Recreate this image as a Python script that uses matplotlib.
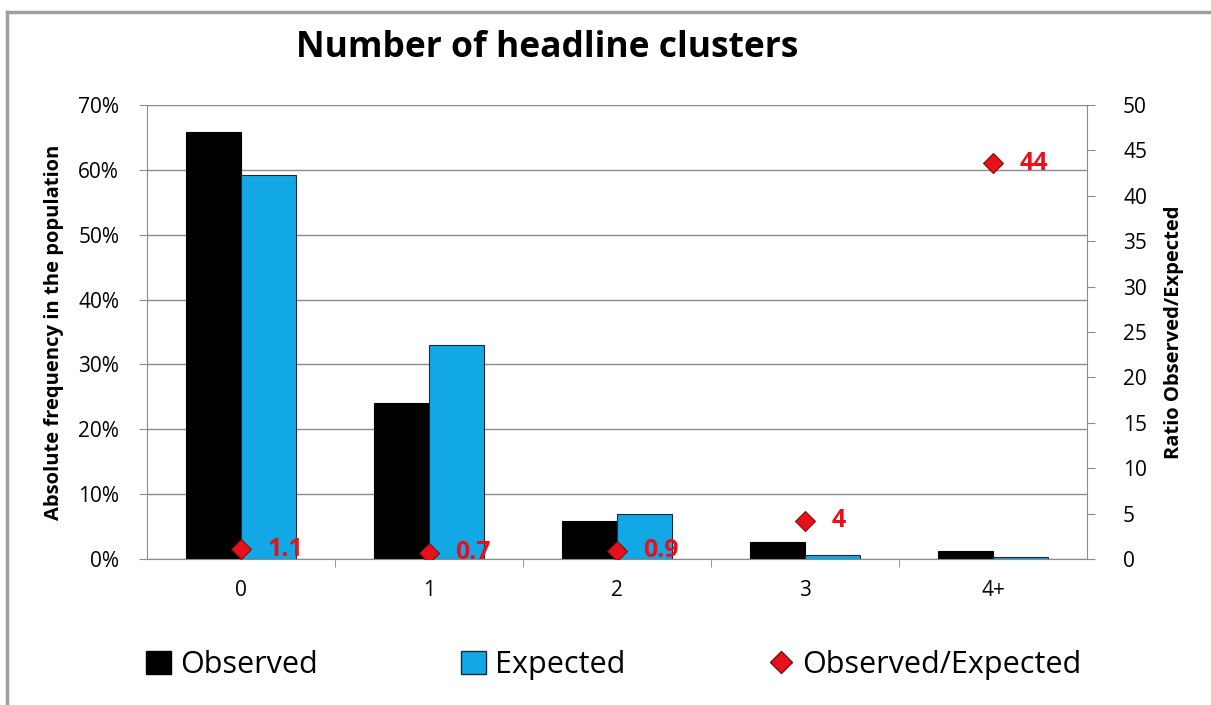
import numpy as np
import matplotlib.pyplot as plt
from matplotlib.ticker import FuncFormatter
from matplotlib.lines import Line2D
from matplotlib.patches import Patch

categories = ['0', '1', '2', '3', '4+']
observed = [65.8, 24.0, 5.9, 2.6, 1.2]      # % of population
expected = [59.2, 33.0, 6.9, 0.6, 0.3]
ratio = [1.1, 0.7, 0.9, 4.2, 43.6]
ratio_labels = ['1.1', '0.7', '0.9', '4', '44']

plt.rcParams['font.family'] = ['Open Sans', 'DejaVu Sans']

fig = plt.figure(figsize=(12.11, 7.05), dpi=100)
ax = fig.add_axes([0.1214, 0.2071, 0.7762, 0.6439])

x = np.arange(len(categories))
w = 0.29
ax.bar(x - w / 2, observed, w, color='black', edgecolor='black', linewidth=0.8, zorder=2)
ax.bar(x + w / 2, expected, w, color='#12A8E6', edgecolor='#1a2a3a', linewidth=0.8, zorder=2)

ax.set_xlim(-0.5, len(categories) - 0.5)
ax.set_ylim(0, 70)
ax.set_yticks(np.arange(0, 71, 10))
ax.yaxis.set_major_formatter(FuncFormatter(lambda v, p: '%d%%' % v))
ax.grid(axis='y', color='#8c8c8c', linewidth=1.0, zorder=0)
ax.set_xticks(x)
ax.set_xticklabels(categories)
ax.set_xticks(np.arange(0.5, len(categories) - 1, 1), minor=True)
ax.tick_params(axis='x', which='major', length=0, labelsize=15, pad=15)
ax.tick_params(axis='x', which='minor', length=6, color='#8c8c8c', direction='out')
ax.tick_params(axis='y', labelsize=15, length=6, color='#8c8c8c', pad=14)
for s in ['top', 'right']:
    ax.spines[s].set_visible(False)
for s in ['left', 'bottom']:
    ax.spines[s].set_color('#8c8c8c')
ax.set_ylabel('Absolute frequency in the population', fontsize=14.5, fontweight='bold', labelpad=10)

ax2 = ax.twinx()
ax2.set_ylim(0, 50)
ax2.set_yticks(np.arange(0, 51, 5))
ax2.plot(x, ratio, linestyle='none', marker='D', markersize=10, color='#E8101A',
         markeredgecolor='#7a1010', markeredgewidth=0.8, zorder=5)
for xi, r, lab in zip(x, ratio, ratio_labels):
    ax2.annotate(lab, (xi, r), xytext=(19, 0), textcoords='offset points',
                 color='#E8101A', fontsize=18, fontweight='bold', va='center', ha='left')
ax2.tick_params(axis='y', labelsize=15, length=6, color='#8c8c8c', pad=20)
for s in ['top', 'left', 'bottom']:
    ax2.spines[s].set_visible(False)
ax2.spines['right'].set_color('#8c8c8c')
ax2.set_ylabel('Ratio Observed/Expected', fontsize=14.5, fontweight='bold', labelpad=12)

fig.text(0.452, 0.932, 'Number of headline clusters', ha='center', va='center',
         fontsize=25.5, fontweight='bold')

handles = [Patch(facecolor='black', edgecolor='black'),
           Patch(facecolor='#12A8E6', edgecolor='#1a2a3a'),
           Line2D([], [], linestyle='none', marker='D', markersize=11, color='#E8101A',
                  markeredgecolor='#7a1010')]
fig.legend(handles, ['Observed', 'Expected', 'Observed/Expected'], loc='center',
           bbox_to_anchor=(0.507, 0.057), ncol=3, frameon=False, fontsize=22,
           handlelength=0.8, handleheight=0.8, handletextpad=0.3, columnspacing=4.7)

# outer chart frame (only left and top visible)
fig.add_artist(Line2D([0.006, 0.006], [0.0, 0.983], color='#a0a0a0', linewidth=2.5))
fig.add_artist(Line2D([0.006, 1.0], [0.983, 0.983], color='#a0a0a0', linewidth=2.5))

fig.savefig('out.png', dpi=100)
